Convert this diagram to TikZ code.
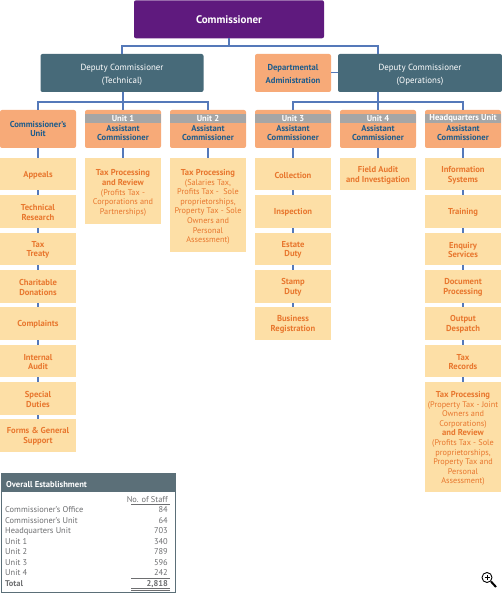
\documentclass[tikz,border=0pt]{standalone}
\usepackage{fontspec}
\setmainfont{PT Sans}
\usetikzlibrary{calc}
\definecolor{purp}{HTML}{5F1A7E}
\definecolor{teal}{HTML}{476A79}
\definecolor{org}{HTML}{F7AA78}
\definecolor{leafc}{HTML}{FDDFA6}
\definecolor{bandc}{HTML}{A6A6A6}
\definecolor{linkc}{HTML}{5579B9}
\definecolor{headt}{HTML}{1D5C8C}
\definecolor{leaft}{HTML}{E8772E}
\definecolor{tabt}{HTML}{6D6E70}
\definecolor{tabh}{HTML}{5B6F78}
\newcommand{\bl}[1]{{\fontsize{8.6}{9.6}\selectfont\bfseries #1}}
\tikzset{
 x=1pt,y=-1pt,
 box/.style={inner sep=0pt,align=center,rounded corners=2pt,font=\fontsize{8.9}{12.8}\selectfont},
 topbox/.style={box,fill=purp,text=white,minimum width=190pt,minimum height=38pt,font=\fontsize{11}{12}\selectfont\bfseries},
 depbox/.style={box,fill=teal,minimum width=164pt,minimum height=38pt},
 deptext/.style={inner sep=0pt,align=center,text=white,font=\fontsize{8.9}{12.8}\selectfont},
 headbox/.style={box,fill=org,text=headt,minimum width=76pt,minimum height=38pt,font=\fontsize{8.6}{9.6}\selectfont\bfseries},
 leafbox/.style={inner sep=0pt,fill=leafc,minimum width=76pt},
 leaftext/.style={inner sep=0pt,align=center,text=leaft,font=\fontsize{8.25}{9.6}\selectfont},
 bandbox/.style={inner sep=0pt,fill=bandc,text=white,minimum width=76pt,minimum height=9.5pt,font=\fontsize{8.6}{9}\selectfont\bfseries},
 link/.style={draw=linkc,line width=1.6pt},
 tabl/.style={anchor=base west,inner sep=0pt,text=tabt,font=\fontsize{8.4}{10}\selectfont},
 tabr/.style={anchor=base east,inner sep=0pt,text=tabt,font=\fontsize{8.4}{10}\selectfont},
}
% name, x, y, height, text shift, text
\newcommand{\leafn}[6]{\node[leafbox,minimum height=#4pt] (#1) at (#2,#3) {};
 \node[leaftext] (#1t) at ([yshift=-#5pt]#1.center) {#6};}
\begin{document}
\begin{tikzpicture}
\useasboundingbox (0,0) rectangle (502,593);
\node[topbox] (top) at (229,19.3) {Commissioner};
\node[depbox,minimum width=163pt] (dt) at (122,73) {};
\node[deptext] (dtt) at ([yshift=-1.8pt]dt.center) {Deputy Commissioner\\(Technical)};
\node[box,fill=org,minimum width=76pt,minimum height=38pt] (da) at (293,73) {};
\node[deptext,text=headt,font=\fontsize{8.6}{12.8}\selectfont\bfseries] (dat) at ([yshift=-1pt]da.center) {Departmental\\Administration};
\node[depbox] (dol) at (420,73) {};
\node[deptext] (dolt) at ([yshift=-1.8pt]dol.center) {Deputy Commissioner\\(Operations)};
\coordinate (dop) at (378,92);
\coordinate (dotop) at (378,54);
\node[headbox] (h1) at (38,129) {Commissioner's\\Unit};
\node[headbox] (h2) at (123,129) {\\[4.6pt]Assistant\\Commissioner};
\node[headbox] (h3) at (208,129) {\\[4.6pt]Assistant\\Commissioner};
\node[headbox] (h4) at (293,129) {\\[4.6pt]Assistant\\Commissioner};
\node[headbox] (h5) at (378,129) {\\[4.6pt]Assistant\\Commissioner};
\node[headbox] (h6) at (463,129) {\\[4.6pt]Assistant\\Commissioner};
\node[bandbox] (b2) at (123,118.5) {Unit 1};
\node[bandbox] (b3) at (208,118.5) {Unit 2};
\node[bandbox] (b4) at (293,118.5) {Unit 3};
\node[bandbox] (b5) at (378,118.5) {Unit 4};
\node[bandbox] (b6) at (463,118.5) {Headquarters Unit};
% leaves col 1
\leafn{a1}{38}{174}{32}{1}{\bl{Appeals}}
\leafn{a2}{38}{211.5}{33}{1}{\bl{Technical}\\\bl{Research}}
\leafn{a3}{38}{249}{32}{1}{\bl{Tax}\\\bl{Treaty}}
\leafn{a4}{38}{286.5}{33}{1}{\bl{Charitable}\\\bl{Donations}}
\leafn{a5}{38}{323.5}{33}{1}{\bl{Complaints}}
\leafn{a6}{38}{361}{32}{1}{\bl{Internal}\\\bl{Audit}}
\leafn{a7}{38}{398.5}{33}{1}{\bl{Special}\\\bl{Duties}}
\leafn{a8}{38}{435.5}{33}{1}{\bl{Forms \& General}\\\bl{Support}}
% col 2, 3
\leafn{u1}{123}{191}{66}{2}{\bl{Tax Processing}\\\bl{and Review}\\(Profits Tax -\\Corporations and\\Partnerships)}
\leafn{u2}{208}{205}{94}{2}{\bl{Tax Processing}\\(Salaries Tax,\\Profits Tax -\ \ Sole\\proprietorships,\\Property Tax - Sole\\Owners and\\Personal\\Assessment)}
% col 4
\leafn{c1}{293}{174}{32}{1}{\bl{Collection}}
\leafn{c2}{293}{211.5}{33}{1}{\bl{Inspection}}
\leafn{c3}{293}{249}{32}{1}{\bl{Estate}\\\bl{Duty}}
\leafn{c4}{293}{286.5}{33}{1}{\bl{Stamp}\\\bl{Duty}}
\leafn{c5}{293}{323.5}{33}{1}{\bl{Business}\\\bl{Registration}}
% col 5
\leafn{f1}{378}{174}{32}{1.3}{\bl{Field Audit}\\\bl{and Investigation}}
% col 6
\leafn{q1}{463}{174}{32}{1.3}{\bl{Information}\\\bl{Systems}}
\leafn{q2}{463}{211.5}{33}{1}{\bl{Training}}
\leafn{q3}{463}{249}{32}{1}{\bl{Enquiry}\\\bl{Services}}
\leafn{q4}{463}{286.5}{33}{1}{\bl{Document}\\\bl{Processing}}
\leafn{q5}{463}{323.5}{33}{1}{\bl{Output}\\\bl{Despatch}}
\leafn{q6}{463}{361}{32}{1}{\bl{Tax}\\\bl{Records}}
\leafn{q7}{463}{437}{110}{1.5}{\bl{Tax Processing}\\(Property Tax - Joint\\Owners and\\Corporations)\\\bl{and Review}\\(Profits Tax - Sole\\proprietorships,\\Property Tax and\\Personal\\Assessment)}
% connectors
\coordinate (j0) at (229,46);
\draw[link] (top.south) -- (j0);
\draw[link] (dt.north) |- (j0);
\draw[link] (dotop) |- (j0);
\coordinate (j1) at (123,102);
\draw[link] (123,92) -- (j1);
\draw[link] (h1.north) |- (j1);
\draw[link] (h2.north) -- (j1);
\draw[link] (h3.north) |- (j1);
\coordinate (j2) at (378,102);
\draw[link] (dop) -- (j2);
\draw[link] (h4.north) |- (j2);
\draw[link] (h5.north) -- (j2);
\draw[link] (h6.north) |- (j2);
\draw[draw=linkc,line width=1pt] (da.east) -- (dol.west);
\foreach \p/\q in {h1/a1,a1/a2,a2/a3,a3/a4,a4/a5,a5/a6,a6/a7,a7/a8,h2/u1,h3/u2,h4/c1,c1/c2,c2/c3,c3/c4,c4/c5,h5/f1,h6/q1,q1/q2,q2/q3,q3/q4,q4/q5,q5/q6,q6/q7}
  \draw[link] (\p.south) -- (\q.north);
% table
\node[inner sep=0pt,minimum width=174pt,minimum height=119pt,draw=tabh,line width=0.8pt] (tab) at (88,533) {};
\node[inner sep=0pt,minimum width=174pt,minimum height=18pt,fill=tabh] (tabhead) at (88,482.5) {};
\node[inner sep=0pt,anchor=base west,text=white,font=\fontsize{8.6}{10}\selectfont\bfseries] (tt) at (6,487) {Overall Establishment};
\node[tabr] (ns) at (168,502) {No. of Staff};
\draw[tabt,line width=0.7pt] (131,504.3) -- (170,504.3);
\node[tabl] (l1) at (5,512.7) {Commissioner's Office}; \node[tabr] (v1) at (168,512.7) {84};
\node[tabl] (l2) at (5,523.2) {Commissioner's Unit}; \node[tabr] (v2) at (168,523.2) {64};
\node[tabl] (l3) at (5,533.6) {Headquarters Unit}; \node[tabr] (v3) at (168,533.6) {703};
\node[tabl] (l4) at (5,544.1) {Unit 1}; \node[tabr] (v4) at (168,544.1) {340};
\node[tabl] (l5) at (5,554.6) {Unit 2}; \node[tabr] (v5) at (168,554.6) {789};
\node[tabl] (l6) at (5,565) {Unit 3}; \node[tabr] (v6) at (168,565) {596};
\node[tabl] (l7) at (5,575.5) {Unit 4}; \node[tabr] (v7) at (168,575.5) {242};
\draw[tabt,line width=0.7pt] (131,578) -- (170,578);
\node[tabl,font=\fontsize{8.4}{10}\selectfont\bfseries] (l8) at (5,586) {Total};
\node[tabr,font=\fontsize{8.4}{10}\selectfont\bfseries] (v8) at (168,586) {2,818};
\draw[tabt,line width=0.6pt] (131,588.5) -- (170,588.5);
\draw[tabt,line width=0.6pt] (131,590) -- (170,590);
% magnifier
\draw[black,line width=0.9pt] (487,577.5) circle (5);
\draw[black,line width=1pt] (484.5,577.5) -- (489.5,577.5) (487,575) -- (487,580);
\draw[black,line width=2pt] (491,581.5) -- (496,587);
\end{tikzpicture}
\end{document}
